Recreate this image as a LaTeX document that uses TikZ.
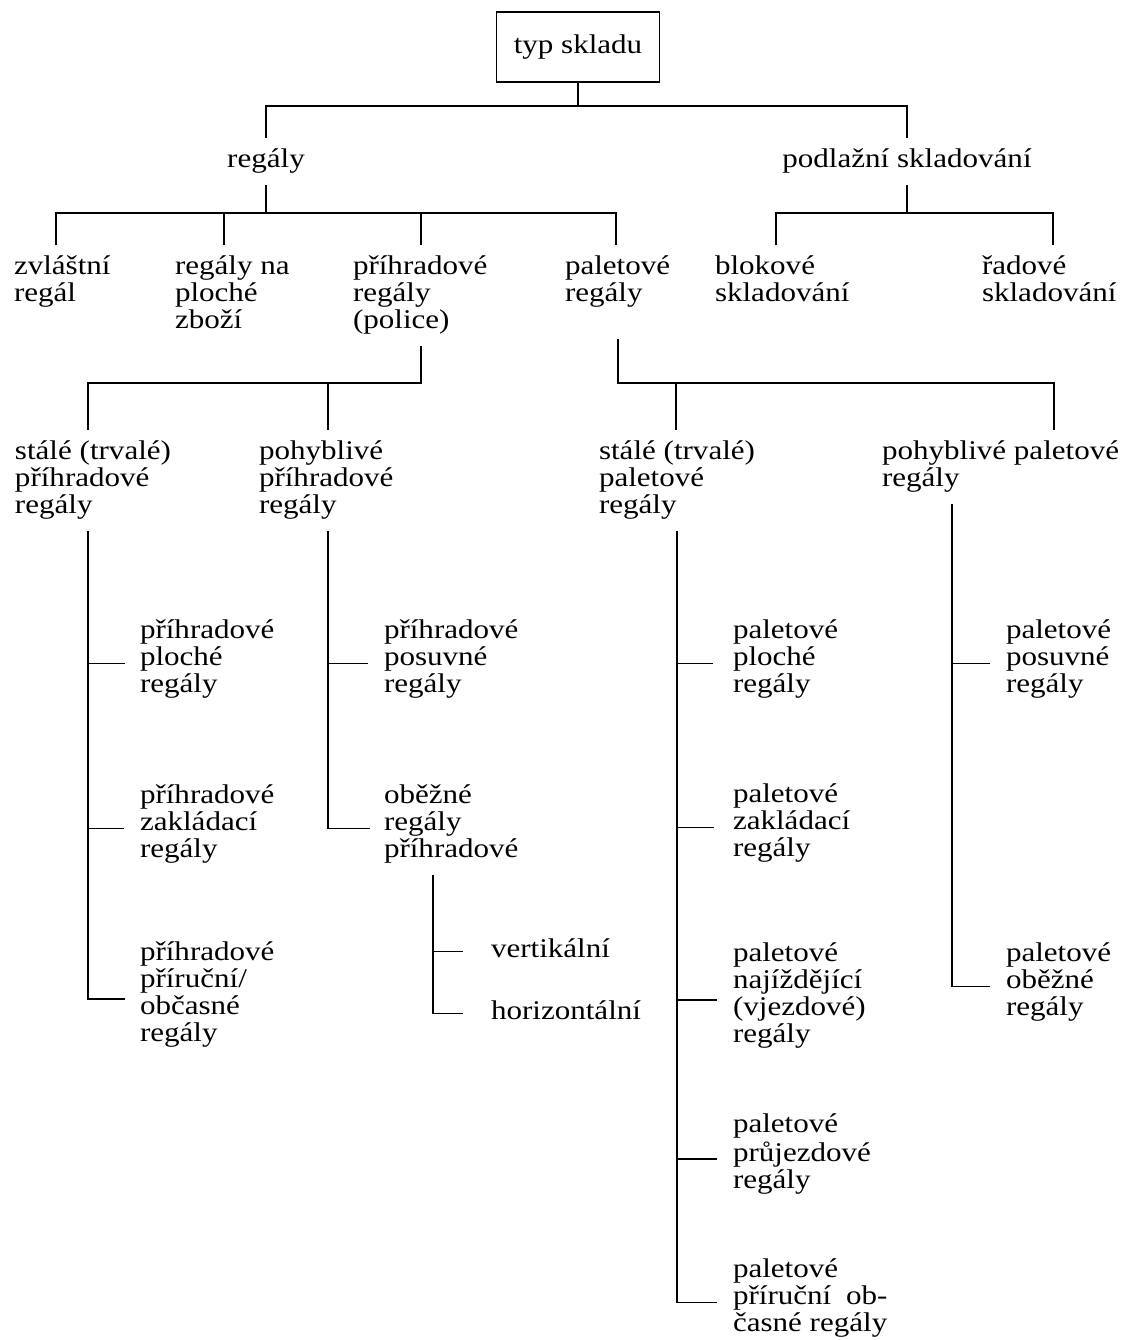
\documentclass[tikz,border=0pt]{standalone}
\usepackage{fontspec}
\setmainfont{Liberation Serif}[FakeStretch=1.15]
\newcommand\lblfont{\fontsize{13.5pt}{13.5pt}\selectfont}
\begin{document}
\begin{tikzpicture}[x=0.5pt,y=-0.5pt,
  ln/.style={line width=0.85pt, draw=black},
  lbl/.style={anchor=north west, inner sep=0pt, outer xsep=0pt, outer ysep=5pt, align=left, font=\lblfont, text=black},
  one/.style={anchor=base, inner sep=0pt, outer xsep=0pt, outer ysep=5pt, font=\lblfont, text=black},
  rootbox/.style={draw=black, line width=0.95pt, inner sep=0pt, minimum width=81.5pt, minimum height=35pt, font=\lblfont, text=black}]
\fill[white] (0,0) rectangle (1128,1340);
\useasboundingbox (0,0) rectangle (1128,1340);

% ---------- nodes ----------
\node[rootbox] (typ) at (578,47) {typ skladu};
\node[one] (regaly) at (266,167) {\strut regály};
\node[one] (podl) at (907,167) {\strut podlažní skladování};

\node[lbl] (zv) at (14,245.1) {\strut zvláštní\\regál\strut};
\node[lbl] (rp) at (175,245.1) {\strut regály na\\ploché\\zboží\strut};
\node[lbl] (pr) at (353,245.1) {\strut příhradové\\regály\\(police)\strut};
\node[lbl] (pa) at (565,245.1) {\strut paletové\\regály\strut};
\node[lbl] (bl) at (715,245.1) {\strut blokové\\skladování\strut};
\node[lbl] (ra) at (982,245.1) {\strut řadové\\skladování\strut};

\node[lbl] (sp) at (15,430.1) {\strut stálé (trvalé)\\příhradové\\regály\strut};
\node[lbl] (pp) at (259,430.1) {\strut pohyblivé\\příhradové\\regály\strut};
\node[lbl] (spal) at (599,430.1) {\strut stálé (trvalé)\\paletové\\regály\strut};
\node[lbl] (ppal) at (882,430.1) {\strut pohyblivé paletové\\regály\strut};

\node[lbl] (l1) at (140,609.1) {\strut příhradové\\ploché\\regály\strut};
\node[lbl] (l2) at (140,774.1) {\strut příhradové\\zakládací\\regály\strut};
\node[lbl] (l3) at (140,931.1) {\strut příhradové\\příruční/\\občasné\\regály\strut};
\node[lbl] (m1) at (384,609.1) {\strut příhradové\\posuvné\\regály\strut};
\node[lbl] (m2) at (384,774.1) {\strut oběžné\\regály\\příhradové\strut};
\node[one, anchor=base west] (n1) at (491,957) {\strut vertikální};
\node[one, anchor=base west] (n2) at (491,1019) {\strut horizontální};

\node[lbl] (p1) at (733,609.1) {\strut paletové\\ploché\\regály\strut};
\node[lbl] (p2) at (733,773.1) {\strut paletové\\zakládací\\regály\strut};
\node[lbl] (p3) at (733,932.1) {\strut paletové\\najíždějící\\(vjezdové)\\regály\strut};
\node[lbl] (p4) at (733,1103.1) {\strut paletové\\průjezdové\\regály\strut};
\node[lbl] (p5) at (733,1248.1) {\strut paletové\\příruční\hspace{0.55em}ob-\\časné regály\strut};
\node[lbl] (q1) at (1006,609.1) {\strut paletové\\posuvné\\regály\strut};
\node[lbl] (q2) at (1006,932.1) {\strut paletové\\oběžné\\regály\strut};

% ---------- level 1 ----------
\coordinate (j0) at (578,106);
\draw[ln] (typ.south) -- (typ.south |- j0);
\draw[ln] (regaly.north) -- (regaly.north |- j0) -- (podl.north |- j0) -- (podl.north);

% ---------- level 2 ----------
\coordinate (d-zv) at (56,213);
\coordinate (d-rp) at (224,213);
\coordinate (d-pr) at (421,213);
\coordinate (d-pa) at (616,213);
\coordinate (d-bl) at (776,213);
\coordinate (d-ra) at (1053,213);
\draw[ln] (regaly.south) -- (regaly.south |- d-zv);
\draw[ln] (d-zv |- zv.north) -- (d-zv) -- (d-pa) -- (d-pa |- pa.north);
\draw[ln] (d-rp) -- (d-rp |- rp.north);
\draw[ln] (d-pr) -- (d-pr |- pr.north);
\draw[ln] (podl.south) -- (podl.south |- d-bl);
\draw[ln] (d-bl |- bl.north) -- (d-bl) -- (d-ra) -- (d-ra |- ra.north);

% ---------- level 3 ----------
\coordinate (e-sp) at (88,383);
\coordinate (e-pp) at (328,383);
\coordinate (e-pr) at (421,383);
\coordinate (e-pa) at (618,383);
\coordinate (e-spal) at (676,383);
\coordinate (e-ppal) at (1054,383);
\draw[ln] (e-pr |- pr.south) -- (e-pr) -- (e-sp) -- (e-sp |- sp.north);
\draw[ln] (e-pp) -- (e-pp |- pp.north);
\coordinate (pa-b) at ([yshift=-10pt]pa.south);
\draw[ln] (e-pa |- pa-b) -- (e-pa) -- (e-ppal) -- (e-ppal |- ppal.north);
\draw[ln] (e-spal) -- (e-spal |- spal.north);

% ---------- level 4 ----------
\coordinate (v1) at (88,0);
\coordinate (v2) at (328,0);
\coordinate (v3) at (677,0);
\coordinate (v4) at (952,0);
\coordinate (v5) at (433,0);
\foreach \n in {l1,l2,l3,m1,m2,p1,p2,p3,p4,p5,q1,q2}
  \coordinate (t-\n) at ([yshift=-2pt]\n.west);

\draw[ln] (v1 |- sp.south) -- (v1 |- t-l3) -- ++(37,0);
\draw[ln] (v1 |- t-l1) -- ++(37,0);
\draw[ln] (v1 |- t-l2) -- ++(36,0);

\draw[ln] (v2 |- pp.south) -- (v2 |- t-m2) -- ++(42,0);
\draw[ln] (v2 |- t-m1) -- ++(40,0);

\draw[ln] (v5 |- m2.south) -- (v5 |- n2.west) -- ++(30,0);
\draw[ln] (v5 |- n1.west) -- ++(30,0);

\draw[ln] (v3 |- spal.south) -- (v3 |- t-p5) -- ++(40,0);
\draw[ln] (v3 |- t-p1) -- ++(36,0);
\draw[ln] (v3 |- t-p2) -- ++(37,0);
\draw[ln] (v3 |- t-p3) -- ++(40,0);
\draw[ln] (v3 |- t-p4) -- ++(40,0);

\draw[ln] (v4 |- ppal.south) -- (v4 |- t-q2) -- ++(38,0);
\draw[ln] (v4 |- t-q1) -- ++(38,0);
\end{tikzpicture}
\end{document}
